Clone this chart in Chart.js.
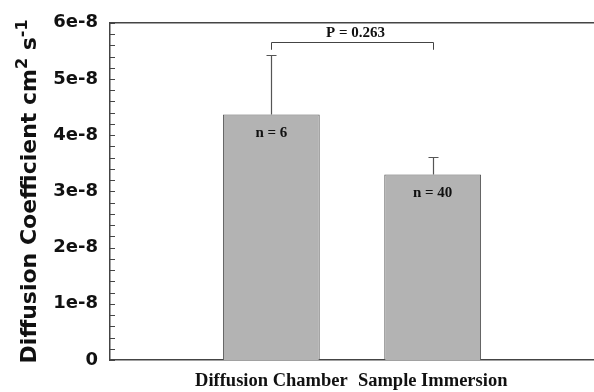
<!DOCTYPE html>
<html>
<head>
<meta charset="utf-8">
<script src="https://cdn.jsdelivr.net/npm/chart.js@4/dist/chart.umd.min.js"></script>
<style>
  html,body{margin:0;padding:0;background:#fff;overflow:hidden;}
  #wrap{width:594px;height:392px;position:relative;}
</style>
</head>
<body>
<div id="wrap"><canvas id="chart"></canvas></div>
<script>
// data (units: cm^2 s^-1)
const categories=['','Diffusion Chamber','Sample Immersion',''];
const means=[null,4.37e-8,3.30e-8,null];
const errUpper=[null,5.43e-8,3.61e-8,null];
const nLabels=['','n = 6','n = 40',''];
const yMin=0, yMax=6e-8, yStep=1e-8, yMinorStep=0.2e-8;
const bracketFrom=1, bracketTo=2;
const bracketTop=5.66e-8, bracketEnd=5.52e-8;
const pLabel='P = 0.263';

const AX='#444', TXT='#111';

const extras={
  id:'extras',
  afterDatasetsDraw(chart){
    const ctx=chart.ctx, a=chart.chartArea, ys=chart.scales.y, meta=chart.getDatasetMeta(0);
    ctx.save();
    // top frame line
    ctx.strokeStyle=AX; ctx.lineWidth=1.5;
    ctx.beginPath(); ctx.moveTo(a.left,a.top); ctx.lineTo(chart.width,a.top); ctx.stroke();
    // inward ticks on y axis
    ctx.lineWidth=1;
    for(let v=yMin; v<=yMax+1e-12; v+=yMinorStep){
      const y=Math.round(ys.getPixelForValue(v))+0.5;
      ctx.beginPath(); ctx.moveTo(a.left,y); ctx.lineTo(a.left+5,y); ctx.stroke();
    }
    // error bars (upper only)
    ctx.strokeStyle='#555'; ctx.lineWidth=1.2;
    errUpper.forEach((e,i)=>{
      if(e==null) return;
      const x=Math.round(meta.data[i].x)+0.5;
      const y0=ys.getPixelForValue(means[i]), y1=Math.round(ys.getPixelForValue(e))+0.5;
      ctx.beginPath(); ctx.moveTo(x,y0); ctx.lineTo(x,y1);
      ctx.moveTo(x-5,y1); ctx.lineTo(x+5,y1); ctx.stroke();
    });
    // n labels inside bars
    ctx.fillStyle=TXT; ctx.font='bold 15px "Liberation Serif"'; ctx.textAlign='center'; ctx.textBaseline='middle';
    nLabels.forEach((t,i)=>{
      if(!t) return;
      ctx.fillText(t,meta.data[i].x,ys.getPixelForValue(means[i])+19);
    });
    // significance bracket
    const bx0=Math.round(meta.data[bracketFrom].x)+0.5, bx1=Math.round(meta.data[bracketTo].x)+0.5;
    const by=Math.round(ys.getPixelForValue(bracketTop))+0.5, be=ys.getPixelForValue(bracketEnd);
    ctx.strokeStyle=AX; ctx.lineWidth=1;
    ctx.beginPath(); ctx.moveTo(bx0,be); ctx.lineTo(bx0,by); ctx.lineTo(bx1,by); ctx.lineTo(bx1,be); ctx.stroke();
    ctx.font='bold 15px "Liberation Serif"';
    ctx.fillText(pLabel,(bx0+bx1)/2+3,by-9);
    // y axis title with superscripts
    const parts=[['Diffusion Coefficient cm',22,0],['2',16,-9],[' s',22,0],['-1',16,-9]];
    let total=0;
    parts.forEach(p=>{ctx.font='bold '+p[1]+'px "DejaVu Sans"'; p.w=ctx.measureText(p[0]).width; total+=p.w;});
    ctx.translate(28,(a.top+a.bottom)/2); ctx.rotate(-Math.PI/2);
    ctx.textAlign='left'; ctx.textBaseline='alphabetic';
    let cx=-total/2;
    parts.forEach(p=>{ctx.font='bold '+p[1]+'px "DejaVu Sans"'; ctx.fillText(p[0],cx,8+p[2]); cx+=p.w;});
    ctx.restore();
  }
};

new Chart(document.getElementById('chart'),{
  type:'bar',
  data:{labels:categories,datasets:[{
    data:means,backgroundColor:'#b3b3b3',borderColor:'#555',borderWidth:1,
    barPercentage:0.6,categoryPercentage:1
  }]},
  options:{
    responsive:true,maintainAspectRatio:false,animation:false,
    layout:{padding:{top:20,right:0,left:0,bottom:0}},
    plugins:{legend:{display:false},tooltip:{enabled:false}},
    scales:{
      x:{type:'category',offset:false,
        grid:{display:false,drawTicks:false},
        border:{display:true,color:AX,width:1.5},
        ticks:{autoSkip:false,maxRotation:0,padding:10,color:TXT,font:{family:'Liberation Serif',weight:'bold',size:18.5}},
        afterFit:s=>{s.height=32;s.paddingLeft=0;s.paddingRight=0;}
      },
      y:{min:yMin,max:yMax,
        grid:{display:false,drawTicks:false},
        border:{display:true,color:AX,width:1.5},
        ticks:{stepSize:yStep,padding:12,color:TXT,font:{family:'DejaVu Sans',weight:'bold',size:18},
          callback:v=>{const k=Math.round(v/yStep);return k===0?'0':k+'e-8';}},
        afterFit:s=>{s.width=110;}
      }
    }
  },
  plugins:[extras]
});
</script>
</body>
</html>
